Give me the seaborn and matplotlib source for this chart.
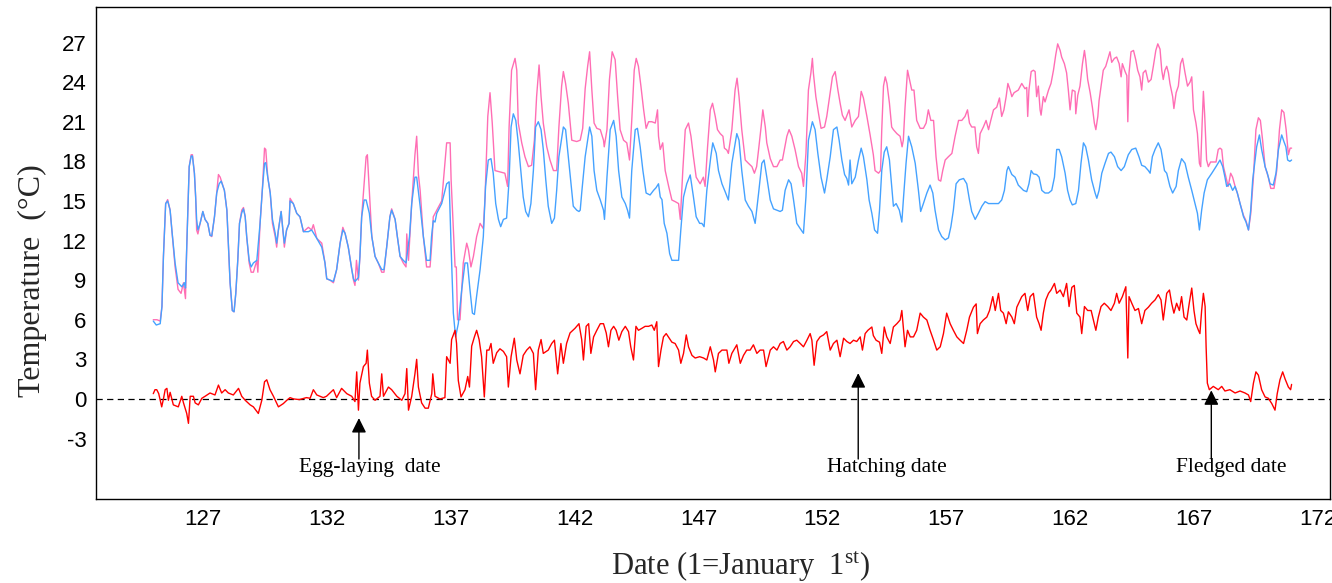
import matplotlib
matplotlib.use("Agg")
import matplotlib.pyplot as plt
import numpy as np
import pandas as pd
import seaborn as sns

# Nest temperature (pink), ambient temperature (blue) and their difference (red)
nest_day = [
    125.00, 125.15, 125.28, 125.35, 125.41, 125.50, 125.58, 125.68, 125.75, 125.88, 126.00, 126.12,
    126.22, 126.30, 126.35, 126.45, 126.53, 126.58, 126.66, 126.71, 126.75, 126.80, 126.89, 127.00,
    127.09, 127.20, 127.29, 127.36, 127.47, 127.56, 127.63, 127.70, 127.80, 127.87, 127.97, 128.03,
    128.10, 128.19, 128.26, 128.33, 128.41, 128.48, 128.57, 128.64, 128.71, 128.77, 128.87, 128.95,
    129.04, 129.18, 129.22, 129.31, 129.40, 129.49, 129.54, 129.62, 129.72, 129.81, 129.92, 129.98,
    130.05, 130.16, 130.23, 130.29, 130.38, 130.48, 130.52, 130.65, 130.79, 130.92, 131.06, 131.26,
    131.39, 131.46, 131.60, 131.80, 131.93, 132.00, 132.13, 132.27, 132.40, 132.54, 132.65, 132.74,
    132.87, 133.01, 133.08, 133.14, 133.20, 133.28, 133.34, 133.41, 133.51, 133.59, 133.64, 133.72,
    133.82, 133.95, 134.08, 134.22, 134.31, 134.42, 134.55, 134.62, 134.76, 134.85, 134.96, 135.09,
    135.20, 135.23, 135.30, 135.43, 135.56, 135.63, 135.70, 135.77, 135.90, 136.03, 136.17, 136.25,
    136.30, 136.44, 136.64, 136.84, 136.98, 137.02, 137.18, 137.23, 137.28, 137.38, 137.51, 137.65,
    137.72, 137.82, 137.92, 138.05, 138.19, 138.32, 138.39, 138.50, 138.59, 138.68, 138.79, 138.99,
    139.19, 139.30, 139.36, 139.46, 139.60, 139.67, 139.73, 139.87, 140.00, 140.14, 140.27, 140.38,
    140.47, 140.57, 140.65, 140.74, 140.88, 141.01, 141.15, 141.28, 141.37, 141.48, 141.55, 141.64,
    141.75, 141.89, 142.09, 142.23, 142.33, 142.43, 142.53, 142.61, 142.70, 142.79, 142.90, 143.04,
    143.17, 143.20, 143.31, 143.41, 143.52, 143.64, 143.74, 143.84, 143.98, 144.11, 144.22, 144.31,
    144.41, 144.49, 144.58, 144.68, 144.79, 144.89, 144.99, 145.12, 145.26, 145.35, 145.39, 145.46,
    145.56, 145.66, 145.80, 145.93, 146.06, 146.20, 146.27, 146.37, 146.47, 146.60, 146.70, 146.80,
    146.91, 147.07, 147.20, 147.27, 147.37, 147.48, 147.57, 147.68, 147.77, 147.88, 147.99, 148.05,
    148.15, 148.21, 148.35, 148.48, 148.56, 148.64, 148.75, 148.89, 149.02, 149.16, 149.26, 149.35,
    149.43, 149.53, 149.60, 149.70, 149.76, 149.90, 150.03, 150.17, 150.30, 150.39, 150.47, 150.57,
    150.66, 150.77, 150.90, 151.04, 151.17, 151.24, 151.34, 151.44, 151.54, 151.60, 151.64, 151.74,
    151.85, 151.95, 152.09, 152.18, 152.32, 152.41, 152.52, 152.63, 152.72, 152.81, 152.92, 153.08,
    153.19, 153.33, 153.46, 153.57, 153.66, 153.80, 153.93, 154.06, 154.13, 154.27, 154.35, 154.40,
    154.47, 154.54, 154.61, 154.71, 154.80, 154.87, 155.01, 155.14, 155.22, 155.27, 155.34, 155.44,
    155.52, 155.61, 155.70, 155.81, 155.95, 156.08, 156.19, 156.28, 156.38, 156.49, 156.59, 156.69,
    156.78, 156.86, 156.96, 157.09, 157.23, 157.36, 157.50, 157.63, 157.76, 157.86, 157.94, 158.03,
    158.16, 158.23, 158.30, 158.37, 158.50, 158.61, 158.71, 158.80, 158.91, 159.04, 159.15, 159.24,
    159.33, 159.42, 159.49, 159.58, 159.65, 159.74, 159.91, 160.05, 160.18, 160.25, 160.29, 160.34,
    160.43, 160.52, 160.59, 160.65, 160.72, 160.79, 160.83, 160.92, 160.99, 161.13, 161.23, 161.33,
    161.42, 161.50, 161.60, 161.66, 161.77, 161.86, 161.93, 162.00, 162.09, 162.20, 162.23, 162.31,
    162.40, 162.50, 162.58, 162.63, 162.71, 162.81, 162.90, 162.98, 163.04, 163.12, 163.17, 163.25,
    163.34, 163.44, 163.55, 163.61, 163.68, 163.79, 163.88, 163.98, 164.06, 164.11, 164.22, 164.29,
    164.33, 164.38, 164.46, 164.56, 164.65, 164.73, 164.82, 164.89, 164.95, 165.05, 165.16, 165.27,
    165.36, 165.46, 165.54, 165.63, 165.70, 165.76, 165.83, 165.90, 165.97, 166.03, 166.14, 166.19,
    166.28, 166.37, 166.46, 166.54, 166.64, 166.74, 166.84, 166.91, 166.98, 167.08, 167.14, 167.22,
    167.27, 167.33, 167.38, 167.43, 167.51, 167.58, 167.67, 167.78, 167.89, 167.98, 168.05, 168.12,
    168.19, 168.29, 168.38, 168.48, 168.56, 168.66, 168.75, 168.86, 169.00, 169.10, 169.20, 169.29,
    169.40, 169.50, 169.60, 169.68, 169.77, 169.87, 170.00, 170.10, 170.23, 170.34, 170.45, 170.54,
    170.63, 170.72, 170.81, 170.88, 170.94,
]
nest_temp = [
    6.0, 6.0, 5.9, 7.0, 10.8, 14.8, 15.1, 14.3, 12.8, 10.0, 8.3, 8.0,
    8.8, 7.6, 11.5, 17.6, 18.5, 18.5, 17.1, 15.3, 12.8, 12.5, 13.3, 14.2,
    13.6, 13.3, 12.4, 12.3, 13.8, 15.6, 17.0, 16.8, 16.2, 15.8, 14.3, 11.8,
    8.8, 6.7, 6.6, 8.0, 10.5, 13.3, 14.3, 14.5, 13.8, 12.3, 10.3, 9.6,
    9.6, 10.5, 9.6, 13.3, 15.8, 19.0, 18.9, 16.8, 15.6, 13.3, 12.3, 11.5,
    12.8, 14.2, 12.8, 11.5, 12.8, 13.3, 15.2, 14.8, 14.06, 13.8, 12.67, 13.0,
    12.8, 13.2, 12.16, 11.8, 10.3, 9.1, 9.0, 8.8, 9.8, 11.8, 13.0, 12.55,
    11.5, 9.8, 9.0, 8.6, 10.5, 9.0, 10.8, 13.8, 16.3, 18.35, 18.5, 15.8,
    12.3, 10.8, 10.3, 9.6, 9.6, 11.5, 13.8, 14.4, 13.6, 12.3, 10.8, 10.3,
    10.0, 12.5, 10.5, 14.8, 18.5, 19.9, 17.0, 15.8, 12.3, 10.0, 10.0, 12.0,
    13.8, 14.3, 15.0, 19.4, 19.4, 16.6, 10.0, 10.0, 6.0, 6.0, 10.3, 11.8,
    11.3, 10.0, 10.8, 12.3, 13.3, 12.9, 15.3, 21.4, 23.2, 20.9, 17.3, 17.2,
    17.1, 16.1, 20.6, 24.9, 25.8, 24.9, 20.9, 19.4, 18.35, 17.6, 17.7, 19.6,
    22.9, 25.3, 22.9, 20.9, 19.1, 18.1, 17.3, 17.3, 20.6, 23.7, 24.8, 23.9,
    22.4, 19.6, 19.5, 19.6, 20.5, 23.5, 25.2, 26.3, 23.4, 20.9, 20.5, 20.4,
    19.6, 19.1, 20.4, 24.2, 26.3, 25.7, 22.9, 20.4, 19.6, 19.4, 18.1, 21.1,
    24.9, 25.8, 25.2, 23.7, 21.9, 20.5, 21.0, 21.0, 20.9, 21.9, 19.9, 18.9,
    19.4, 17.3, 16.1, 15.07, 14.95, 14.8, 13.6, 17.3, 20.4, 20.9, 19.9, 18.35,
    16.8, 16.3, 16.8, 16.1, 19.1, 21.9, 22.4, 21.4, 20.4, 20.1, 19.9, 19.0,
    18.85, 18.6, 20.4, 23.4, 24.3, 22.9, 20.4, 18.1, 17.85, 17.6, 17.1, 17.6,
    18.9, 20.6, 21.9, 20.6, 19.4, 18.2, 17.6, 17.6, 18.1, 18.1, 18.9, 19.9,
    20.4, 19.9, 18.9, 17.6, 17.1, 16.1, 18.6, 23.4, 24.7, 25.8, 24.7, 22.9,
    21.6, 20.5, 20.6, 21.4, 23.2, 24.4, 24.8, 23.4, 22.4, 21.5, 21.1, 21.9,
    20.6, 21.1, 21.4, 23.3, 22.8, 21.4, 20.0, 18.5, 17.3, 17.1, 17.3, 20.4,
    23.7, 24.4, 23.9, 22.4, 20.6, 20.4, 20.1, 19.9, 19.1, 19.6, 22.1, 24.9,
    24.2, 23.4, 23.4, 21.1, 20.5, 20.5, 20.9, 21.9, 21.1, 21.1, 18.35, 16.6,
    16.5, 17.3, 18.1, 18.35, 18.6, 19.9, 21.1, 21.1, 21.4, 21.9, 20.9, 20.6,
    20.6, 19.1, 18.6, 20.1, 20.6, 21.1, 20.4, 21.1, 21.9, 22.1, 22.8, 21.4,
    21.9, 22.9, 23.9, 23.4, 22.9, 23.2, 23.4, 23.9, 23.5, 23.6, 21.4, 23.4,
    24.8, 24.9, 24.8, 22.9, 23.7, 21.9, 21.5, 22.9, 22.5, 23.4, 23.9, 24.9,
    26.05, 26.9, 26.4, 25.9, 25.4, 24.7, 23.4, 21.9, 23.4, 23.3, 21.6, 23.0,
    23.7, 25.4, 26.4, 25.7, 24.2, 23.2, 22.1, 20.9, 20.4, 21.4, 22.6, 23.7,
    24.9, 25.2, 25.9, 26.3, 25.5, 25.8, 25.9, 25.4, 24.4, 25.4, 24.8, 24.5,
    21.0, 24.7, 26.3, 26.4, 25.7, 24.9, 24.4, 23.4, 24.7, 24.9, 24.0, 24.2,
    25.2, 26.4, 26.9, 26.5, 24.9, 24.2, 24.9, 25.2, 24.7, 23.9, 22.9, 22.0,
    23.2, 23.7, 25.4, 25.8, 24.7, 23.7, 24.0, 24.4, 21.9, 20.9, 20.1, 17.85,
    17.6, 20.9, 23.3, 21.6, 18.1, 17.6, 17.95, 17.95, 17.95, 18.9, 19.0, 18.9,
    17.6, 16.8, 16.1, 17.1, 16.8, 16.1, 15.6, 14.8, 13.9, 13.5, 12.8, 14.0,
    16.8, 20.4, 21.3, 21.1, 19.6, 17.6, 16.8, 15.95, 15.95, 17.3, 20.4, 21.9,
    21.7, 20.4, 18.5, 19.0, 19.0,
]

air_day = [
    125.00, 125.12, 125.28, 125.35, 125.41, 125.50, 125.58, 125.68, 125.75, 125.88, 126.00, 126.15,
    126.26, 126.30, 126.35, 126.45, 126.53, 126.58, 126.66, 126.71, 126.75, 126.80, 126.89, 127.00,
    127.09, 127.20, 127.29, 127.36, 127.47, 127.56, 127.66, 127.74, 127.87, 127.97, 128.03, 128.10,
    128.19, 128.26, 128.33, 128.41, 128.48, 128.57, 128.64, 128.71, 128.77, 128.87, 128.95, 129.04,
    129.18, 129.31, 129.40, 129.49, 129.54, 129.62, 129.72, 129.81, 129.92, 129.98, 130.05, 130.16,
    130.23, 130.29, 130.38, 130.48, 130.52, 130.65, 130.79, 130.92, 131.06, 131.26, 131.39, 131.60,
    131.80, 131.93, 132.00, 132.13, 132.27, 132.40, 132.54, 132.65, 132.74, 132.87, 133.01, 133.08,
    133.14, 133.28, 133.34, 133.41, 133.51, 133.59, 133.72, 133.82, 133.95, 134.08, 134.22, 134.31,
    134.42, 134.55, 134.62, 134.76, 134.85, 134.96, 135.09, 135.20, 135.34, 135.43, 135.56, 135.63,
    135.77, 135.90, 136.03, 136.17, 136.23, 136.30, 136.37, 136.44, 136.64, 136.84, 136.94, 137.02,
    137.11, 137.20, 137.31, 137.45, 137.58, 137.68, 137.78, 137.88, 137.96, 138.05, 138.19, 138.32,
    138.41, 138.52, 138.63, 138.72, 138.82, 138.93, 139.02, 139.13, 139.26, 139.36, 139.44, 139.53,
    139.63, 139.73, 139.84, 139.93, 140.03, 140.14, 140.24, 140.34, 140.43, 140.54, 140.65, 140.74,
    140.84, 140.94, 141.08, 141.19, 141.28, 141.37, 141.55, 141.64, 141.75, 141.86, 141.95, 142.09,
    142.18, 142.23, 142.30, 142.43, 142.61, 142.70, 142.79, 142.90, 143.04, 143.17, 143.21, 143.31,
    143.44, 143.58, 143.68, 143.78, 143.91, 144.05, 144.14, 144.22, 144.31, 144.45, 144.54, 144.65,
    144.76, 144.89, 145.05, 145.19, 145.29, 145.39, 145.46, 145.53, 145.62, 145.73, 145.84, 145.93,
    146.06, 146.20, 146.29, 146.40, 146.53, 146.67, 146.80, 146.91, 147.05, 147.14, 147.23, 147.34,
    147.50, 147.58, 147.72, 147.81, 147.95, 148.08, 148.21, 148.35, 148.55, 148.64, 148.75, 148.89,
    149.02, 149.16, 149.29, 149.43, 149.56, 149.65, 149.76, 149.90, 150.03, 150.17, 150.30, 150.39,
    150.50, 150.64, 150.74, 150.84, 150.97, 151.11, 151.24, 151.34, 151.44, 151.60, 151.71, 151.82,
    151.95, 152.09, 152.18, 152.32, 152.45, 152.59, 152.68, 152.79, 152.90, 152.99, 153.06, 153.12,
    153.19, 153.33, 153.46, 153.57, 153.66, 153.80, 153.89, 154.00, 154.11, 154.23, 154.31, 154.40,
    154.50, 154.60, 154.71, 154.80, 154.87, 154.98, 155.11, 155.21, 155.28, 155.38, 155.48, 155.61,
    155.75, 155.88, 155.97, 156.08, 156.22, 156.35, 156.46, 156.55, 156.69, 156.82, 156.96, 157.09,
    157.19, 157.29, 157.40, 157.53, 157.70, 157.83, 157.94, 158.03, 158.17, 158.30, 158.44, 158.57,
    158.71, 158.84, 158.98, 159.11, 159.24, 159.35, 159.45, 159.51, 159.65, 159.78, 159.91, 160.12,
    160.25, 160.34, 160.43, 160.52, 160.65, 160.75, 160.86, 160.99, 161.13, 161.26, 161.37, 161.46,
    161.56, 161.66, 161.80, 161.90, 162.00, 162.09, 162.23, 162.34, 162.44, 162.54, 162.63, 162.74,
    162.87, 163.01, 163.08, 163.17, 163.28, 163.41, 163.55, 163.65, 163.79, 163.92, 164.06, 164.19,
    164.35, 164.49, 164.65, 164.78, 164.89, 165.02, 165.16, 165.23, 165.32, 165.43, 165.56, 165.67,
    165.81, 165.90, 166.03, 166.14, 166.28, 166.37, 166.50, 166.64, 166.77, 166.91, 167.04, 167.14,
    167.22, 167.31, 167.41, 167.54, 167.72, 167.89, 168.05, 168.16, 168.25, 168.32, 168.45, 168.56,
    168.66, 168.75, 168.86, 169.00, 169.10, 169.20, 169.29, 169.37, 169.53, 169.64, 169.73, 169.87,
    169.96, 170.07, 170.20, 170.31, 170.41, 170.54, 170.63, 170.71, 170.78, 170.87, 170.94,
]
air_temp = [
    5.9, 5.6, 5.7, 7.0, 10.8, 14.8, 15.0, 14.3, 12.8, 10.3, 8.8, 8.5,
    8.8, 8.4, 11.5, 17.6, 18.4, 18.4, 17.1, 15.3, 13.6, 12.8, 13.3, 14.2,
    13.6, 13.3, 12.4, 12.35, 13.8, 15.6, 16.3, 16.5, 15.8, 14.3, 11.8, 8.8,
    6.7, 6.6, 8.0, 10.5, 13.3, 14.1, 14.4, 13.8, 12.3, 10.5, 10.0, 10.3,
    10.5, 13.3, 15.8, 17.85, 17.9, 16.8, 15.6, 13.6, 12.55, 11.8, 12.8, 14.2,
    12.8, 11.8, 12.8, 13.3, 15.0, 14.8, 14.06, 13.8, 12.67, 12.67, 12.8, 12.16,
    11.5, 10.3, 9.1, 9.0, 8.9, 9.8, 11.8, 12.8, 12.55, 11.5, 9.8, 9.1,
    8.9, 9.2, 10.8, 13.8, 15.07, 15.07, 14.06, 12.3, 10.8, 10.3, 9.8, 9.8,
    11.5, 13.8, 14.3, 13.6, 12.3, 10.8, 10.5, 10.3, 12.3, 14.8, 16.8, 16.8,
    14.6, 12.3, 10.5, 10.5, 12.3, 13.5, 13.4, 14.06, 14.8, 16.3, 16.45, 11.5,
    6.5, 4.7, 5.7, 8.3, 10.3, 10.3, 8.3, 6.5, 6.4, 7.8, 9.8, 12.3,
    16.1, 18.1, 18.2, 17.1, 14.8, 13.6, 13.05, 13.6, 13.7, 16.6, 20.6, 21.6,
    21.1, 19.4, 17.1, 15.3, 14.2, 13.8, 14.8, 17.3, 20.6, 21.0, 20.4, 18.9,
    16.6, 14.6, 13.3, 13.7, 15.8, 18.35, 20.6, 20.4, 18.35, 16.3, 14.6, 14.3,
    14.2, 14.3, 15.8, 18.35, 20.6, 19.9, 17.3, 15.8, 15.07, 14.3, 13.6, 16.8,
    20.4, 21.1, 19.9, 17.3, 15.3, 14.8, 14.3, 13.7, 17.3, 20.4, 20.5, 19.1,
    17.3, 15.6, 15.45, 15.8, 16.0, 16.3, 15.3, 15.1, 13.3, 12.55, 11.0, 10.5,
    10.5, 10.5, 12.8, 15.3, 16.3, 16.97, 15.3, 13.8, 13.3, 13.3, 13.05, 15.8,
    18.35, 19.4, 18.6, 17.3, 16.3, 15.7, 15.07, 17.85, 20.1, 19.6, 17.3, 15.07,
    14.6, 14.2, 13.3, 15.6, 17.85, 18.1, 16.8, 15.07, 14.4, 14.3, 14.2, 14.3,
    15.8, 16.6, 16.3, 15.07, 13.3, 12.9, 12.55, 15.3, 19.6, 21.0, 20.4, 18.6,
    16.8, 15.6, 16.6, 18.35, 20.4, 20.6, 19.6, 18.1, 17.0, 16.7, 16.2, 18.1,
    16.3, 16.8, 18.1, 19.0, 18.35, 16.6, 15.07, 14.06, 12.8, 12.55, 14.3, 17.3,
    18.7, 19.1, 18.1, 16.1, 14.6, 14.8, 14.3, 13.4, 15.3, 17.85, 19.9, 19.1,
    17.85, 15.8, 14.2, 14.8, 15.6, 16.2, 15.6, 14.3, 12.8, 12.3, 12.05, 12.2,
    13.05, 14.3, 16.3, 16.6, 16.7, 16.3, 15.07, 14.2, 13.6, 14.06, 14.6, 14.95,
    14.8, 14.8, 14.8, 14.8, 15.07, 15.8, 17.3, 17.6, 17.0, 16.8, 16.2, 15.8,
    15.7, 16.3, 17.3, 17.05, 17.0, 16.8, 15.8, 15.6, 15.6, 15.8, 16.8, 18.9,
    18.9, 18.35, 17.1, 15.8, 15.07, 14.7, 14.8, 15.8, 17.85, 19.4, 19.1, 18.1,
    16.6, 15.6, 15.2, 15.8, 17.1, 17.85, 18.6, 18.7, 18.35, 17.6, 17.3, 17.6,
    18.5, 18.9, 19.0, 18.35, 17.7, 17.6, 17.3, 17.1, 18.35, 18.9, 19.4, 18.9,
    17.3, 17.1, 16.1, 15.6, 16.1, 17.3, 18.2, 17.85, 16.8, 15.8, 14.8, 14.06,
    12.8, 14.3, 15.6, 16.6, 17.1, 17.6, 18.1, 17.6, 16.8, 16.1, 16.3, 15.8,
    16.1, 15.6, 14.8, 13.8, 13.4, 12.8, 14.3, 16.6, 19.1, 20.0, 18.9, 17.6,
    17.1, 16.3, 16.2, 17.1, 18.9, 20.0, 19.5, 19.1, 18.1, 18.0, 18.1,
]

diff_day = [
    125.00, 125.07, 125.14, 125.22, 125.34, 125.41, 125.48, 125.55, 125.61, 125.68, 125.81, 126.01,
    126.15, 126.22, 126.35, 126.42, 126.49, 126.62, 126.69, 126.82, 126.96, 127.09, 127.29, 127.49,
    127.63, 127.76, 127.90, 128.03, 128.23, 128.44, 128.57, 128.71, 128.91, 129.04, 129.24, 129.38,
    129.49, 129.58, 129.71, 129.85, 130.05, 130.25, 130.39, 130.52, 130.66, 130.90, 131.18, 131.33,
    131.46, 131.60, 131.86, 131.99, 132.27, 132.40, 132.60, 132.81, 133.01, 133.14, 133.21, 133.28,
    133.34, 133.48, 133.59, 133.64, 133.72, 133.81, 133.95, 134.15, 134.22, 134.29, 134.49, 134.62,
    134.83, 135.03, 135.16, 135.23, 135.30, 135.43, 135.56, 135.63, 135.70, 135.83, 135.97, 136.10,
    136.24, 136.28, 136.37, 136.57, 136.77, 136.84, 136.98, 137.04, 137.18, 137.24, 137.31, 137.42,
    137.58, 137.69, 137.76, 137.85, 137.96, 138.05, 138.15, 138.25, 138.36, 138.46, 138.55, 138.63,
    138.72, 138.86, 138.99, 139.13, 139.26, 139.33, 139.44, 139.57, 139.67, 139.80, 139.93, 140.07,
    140.20, 140.34, 140.43, 140.54, 140.65, 140.74, 140.94, 141.08, 141.19, 141.32, 141.45, 141.55,
    141.68, 141.82, 142.02, 142.18, 142.29, 142.36, 142.47, 142.57, 142.66, 142.77, 142.90, 143.04,
    143.17, 143.28, 143.37, 143.47, 143.58, 143.68, 143.79, 143.91, 144.05, 144.18, 144.27, 144.38,
    144.48, 144.58, 144.72, 144.85, 144.99, 145.12, 145.22, 145.32, 145.39, 145.49, 145.59, 145.70,
    145.79, 145.93, 146.06, 146.20, 146.29, 146.40, 146.51, 146.60, 146.74, 146.87, 147.05, 147.21,
    147.34, 147.48, 147.61, 147.68, 147.81, 147.95, 148.15, 148.23, 148.35, 148.55, 148.69, 148.82,
    148.95, 149.09, 149.22, 149.36, 149.49, 149.63, 149.73, 149.90, 150.03, 150.17, 150.30, 150.43,
    150.57, 150.70, 150.84, 150.97, 151.11, 151.24, 151.38, 151.51, 151.58, 151.67, 151.78, 151.91,
    152.05, 152.18, 152.32, 152.45, 152.59, 152.72, 152.86, 152.99, 153.12, 153.26, 153.39, 153.53,
    153.62, 153.73, 153.84, 154.00, 154.06, 154.17, 154.31, 154.40, 154.50, 154.60, 154.74, 154.87,
    155.01, 155.14, 155.21, 155.28, 155.34, 155.44, 155.55, 155.68, 155.81, 155.95, 156.08, 156.22,
    156.35, 156.49, 156.62, 156.76, 156.89, 157.02, 157.16, 157.29, 157.43, 157.56, 157.70, 157.83,
    157.94, 158.10, 158.21, 158.26, 158.37, 158.50, 158.64, 158.75, 158.88, 158.98, 159.11, 159.20,
    159.31, 159.42, 159.51, 159.65, 159.75, 159.85, 159.96, 160.05, 160.18, 160.29, 160.39, 160.52,
    160.65, 160.75, 160.83, 160.92, 161.02, 161.13, 161.23, 161.37, 161.46, 161.60, 161.73, 161.86,
    161.96, 162.07, 162.17, 162.27, 162.40, 162.47, 162.58, 162.71, 162.85, 162.94, 163.04, 163.14,
    163.25, 163.38, 163.52, 163.65, 163.79, 163.88, 163.98, 164.11, 164.25, 164.33, 164.38, 164.49,
    164.62, 164.76, 164.89, 165.02, 165.16, 165.29, 165.43, 165.56, 165.67, 165.76, 165.90, 166.01,
    166.10, 166.19, 166.30, 166.41, 166.50, 166.60, 166.71, 166.81, 166.91, 167.00, 167.08, 167.18,
    167.24, 167.31, 167.38, 167.45, 167.49, 167.54, 167.62, 167.78, 167.98, 168.12, 168.25, 168.45,
    168.66, 168.86, 169.06, 169.20, 169.29, 169.40, 169.50, 169.60, 169.73, 169.87, 170.00, 170.14,
    170.27, 170.36, 170.47, 170.58, 170.68, 170.81, 170.90, 170.94,
]
diff_temp = [
    0.4, 0.7, 0.7, 0.4, -0.6, 0.0, 0.7, 0.8, -0.1, 0.5, -0.45, -0.6,
    0.2, -0.3, -1.1, -1.85, 0.2, 0.2, -0.3, -0.45, 0.05, 0.2, 0.45, 0.3,
    1.05, 0.45, 0.7, 0.45, 0.3, 0.8, 0.2, -0.1, -0.45, -0.6, -1.1, -0.1,
    1.3, 1.45, 0.7, 0.2, -0.6, -0.35, -0.1, 0.1, 0.0, -0.05, 0.1, 0.05,
    0.7, 0.3, 0.1, 0.2, 0.7, 0.1, 0.8, 0.4, 0.2, -0.2, 2.05, -0.85,
    1.2, 2.45, 2.7, 3.7, 1.2, 0.2, -0.1, 0.2, 1.9, 0.2, 0.9, 0.7,
    0.2, -0.1, 0.4, 2.3, -0.85, 0.2, 1.9, 3.0, 0.9, -0.3, -0.7, -0.7,
    0.4, 1.9, 0.2, 0.0, 0.1, 3.2, 2.7, 4.5, 5.2, 4.2, 1.4, 0.15,
    0.7, 1.7, 0.9, 4.0, 4.7, 5.2, 4.5, 3.2, 0.15, 3.7, 3.7, 4.2,
    2.7, 3.5, 3.8, 3.6, 3.2, 0.9, 3.2, 4.6, 2.95, 1.9, 3.3, 3.7,
    3.95, 3.45, 0.7, 3.7, 4.5, 3.45, 3.7, 4.2, 4.45, 1.9, 4.2, 2.7,
    4.2, 5.0, 5.35, 5.7, 4.5, 2.95, 5.5, 5.7, 3.45, 4.7, 5.2, 5.7,
    5.7, 5.0, 3.95, 5.2, 5.5, 5.2, 4.45, 5.1, 5.5, 5.1, 3.95, 2.95,
    5.5, 5.2, 5.35, 5.5, 5.5, 5.6, 5.2, 5.85, 2.45, 3.7, 4.7, 4.95,
    4.7, 4.3, 4.2, 3.7, 2.7, 3.45, 4.85, 3.95, 3.3, 3.1, 3.2, 3.1,
    2.95, 3.95, 2.95, 2.05, 3.45, 3.7, 3.7, 2.7, 3.45, 4.1, 2.7, 3.3,
    3.7, 3.7, 4.1, 3.45, 3.7, 3.7, 2.45, 3.7, 3.95, 3.7, 4.2, 4.35,
    3.7, 3.95, 4.35, 4.45, 4.2, 3.95, 4.45, 4.95, 4.45, 2.55, 4.35, 4.7,
    4.85, 5.1, 3.7, 4.2, 4.45, 3.2, 4.6, 4.35, 4.2, 4.45, 4.35, 4.7,
    3.7, 4.95, 5.2, 5.45, 4.8, 4.45, 4.3, 3.45, 5.45, 4.7, 4.2, 5.45,
    5.7, 5.98, 6.7, 5.2, 3.95, 5.2, 4.7, 4.7, 5.2, 6.5, 6.2, 5.98,
    5.2, 4.45, 3.7, 3.95, 4.95, 6.5, 5.7, 5.2, 4.7, 4.45, 4.2, 5.2,
    6.2, 6.95, 7.2, 4.95, 5.7, 5.98, 6.2, 6.7, 7.75, 6.7, 8.0, 6.7,
    6.5, 5.7, 6.6, 6.2, 5.7, 6.95, 7.4, 7.75, 8.0, 6.7, 7.75, 8.0,
    6.2, 5.7, 5.2, 6.5, 7.5, 8.0, 8.25, 8.75, 8.0, 8.25, 7.75, 8.75,
    7.0, 8.45, 8.6, 6.5, 6.2, 4.95, 7.0, 6.7, 6.7, 5.98, 5.2, 6.2,
    7.0, 7.25, 7.0, 6.7, 7.25, 8.0, 7.25, 7.75, 8.5, 3.1, 7.75, 7.25,
    6.7, 6.85, 5.7, 6.7, 6.95, 7.25, 7.5, 7.9, 7.5, 5.98, 8.0, 8.25,
    7.25, 6.5, 7.25, 6.7, 7.75, 6.2, 5.98, 7.25, 8.4, 6.7, 5.7, 5.2,
    4.95, 6.7, 8.0, 7.0, 3.95, 1.2, 0.7, 0.95, 0.7, 0.95, 0.6, 0.7,
    0.45, 0.6, 0.45, 0.3, -0.2, 1.2, 2.05, 1.8, 0.7, 0.15, 0.05, -0.35,
    -0.85, 0.4, 1.45, 2.05, 1.5, 0.9, 0.7, 1.1,
]

# Breeding events marked under the curves: (label, day, arrow tip value)
event_labels = ["Egg-laying  date", "Hatching date", "Fledged date"]
event_days = [133.3, 153.45, 167.7]
event_tips = [-1.45, 1.95, 0.65]
event_text_days = [133.75, 154.6, 168.5]

y_ticks = list(range(-3, 28, 3))
x_ticks = list(range(127, 173, 5))

sns.set_style("white")
plt.rcParams["font.family"] = ["Liberation Sans", "DejaVu Sans"]
plt.rcParams["axes.unicode_minus"] = False
plt.rcParams["mathtext.fontset"] = "custom"
plt.rcParams["mathtext.rm"] = "Liberation Serif"
plt.rcParams["mathtext.it"] = "Liberation Serif:italic"

fig = plt.figure(figsize=(13.32, 5.83), dpi=100)
ax = fig.add_axes([0.0721, 0.1441, 0.9264, 0.8434])

nest_df = pd.DataFrame({"day": nest_day, "temp": nest_temp})
air_df = pd.DataFrame({"day": air_day, "temp": air_temp})
diff_df = pd.DataFrame({"day": diff_day, "temp": diff_temp})

ax.axhline(0, color="black", lw=0.9, ls=(0, (5, 3.5)), zorder=1)
sns.lineplot(data=nest_df, x="day", y="temp", ax=ax, color="#FF6EB4",
             lw=1.0, estimator=None, sort=False, zorder=2)
sns.lineplot(data=air_df, x="day", y="temp", ax=ax, color="#45A2FF",
             lw=1.0, estimator=None, sort=False, zorder=3)
sns.lineplot(data=diff_df, x="day", y="temp", ax=ax, color="#FF0000",
             lw=1.0, estimator=None, sort=False, zorder=3)

for label, d, tip, td in zip(event_labels, event_days, event_tips, event_text_days):
    ax.annotate("", xy=(d, tip), xytext=(d, -4.55),
                arrowprops=dict(arrowstyle="-|>", color="black", lw=1.0,
                                mutation_scale=22, shrinkA=0, shrinkB=0),
                zorder=4)
    ax.text(td, -5.2, label, ha="center", va="center", fontsize=15.5,
            family="Liberation Serif", color="black")

ax.set_xlim(122.69, 172.49)
ax.set_ylim(-7.58, 29.67)
ax.set_xticks(x_ticks)
ax.set_yticks(y_ticks)
ax.tick_params(axis="both", direction="out", length=4, width=0.8,
               color="#333333", labelsize=16, labelcolor="black", pad=3)
for s in ax.spines.values():
    s.set_visible(True)
    s.set_color("black")
    s.set_linewidth(1.0)

ax.set_xlabel(r"Date (1=January  1$^{\mathrm{st}}$)", family="Liberation Serif",
              fontsize=22)
ax.set_ylabel("Temperature  (\u00b0C)", family="Liberation Serif",
              fontsize=23)
ax.xaxis.set_label_coords(0.522, -0.104)
ax.yaxis.set_label_coords(-0.040, 0.445)

fig.savefig("out.png", dpi=100)
